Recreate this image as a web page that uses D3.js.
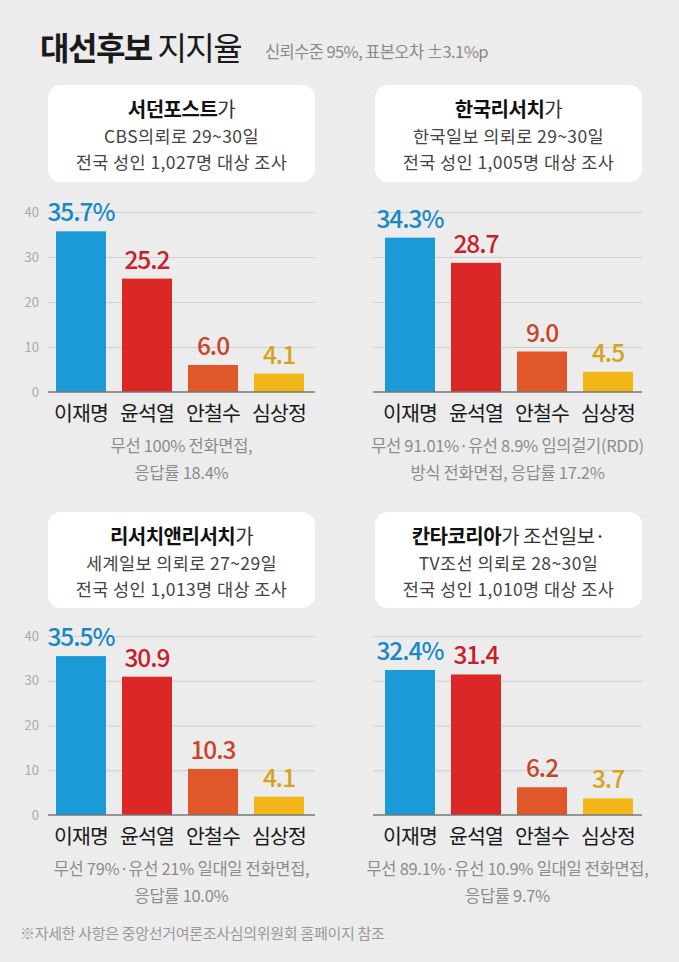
<!DOCTYPE html>
<html><head><meta charset="utf-8">
<script src="https://cdn.jsdelivr.net/npm/d3@7/dist/d3.min.js"></script>
<style>
html,body{margin:0;padding:0;background:#ececec;}
svg{display:block;}
text{font-family:"Noto Sans CJK KR","Noto Sans",sans-serif;}
</style></head>
<body>
<script>
// ---- data ----
const candidates = ["이재명", "윤석열", "안철수", "심상정"];
const valuesSouthernPost = [35.7, 25.2, 6.0, 4.1];
const valuesHankookResearch = [34.3, 28.7, 9.0, 4.5];
const valuesResearchAndResearch = [35.5, 30.9, 10.3, 4.1];
const valuesKantarKorea = [32.4, 31.4, 6.2, 3.7];
const yTicks = [0, 10, 20, 30, 40];
const titleBold = "대선후보";
const titleRegular = " 지지율";
const subtitle = "신뢰수준 95%, 표본오차 ±3.1%p";
const footer = "※자세한 사항은 중앙선거여론조사심의위원회 홈페이지 참조";
const headers = [
  [["서던포스트", "가"], "CBS의뢰로 29~30일", "전국 성인 1,027명 대상 조사"],
  [["한국리서치", "가"], "한국일보 의뢰로 29~30일", "전국 성인 1,005명 대상 조사"],
  [["리서치앤리서치", "가"], "세계일보 의뢰로 27~29일", "전국 성인 1,013명 대상 조사"],
  [["칸타코리아", "가 조선일보·"], "TV조선 의뢰로 28~30일", "전국 성인 1,010명 대상 조사"]
];
const notes = [
  ["무선 100% 전화면접,", "응답률 18.4%"],
  ["무선 91.01%·유선 8.9% 임의걸기(RDD)", "방식 전화면접, 응답률 17.2%"],
  ["무선 79%·유선 21% 일대일 전화면접,", "응답률 10.0%"],
  ["무선 89.1%·유선 10.9% 일대일 전화면접,", "응답률 9.7%"]
];
const seriesList = [valuesSouthernPost, valuesHankookResearch, valuesResearchAndResearch, valuesKantarKorea];

// ---- style ----
const barColors = ["#1b9ad8", "#dc2727", "#e0582a", "#f2b619"];
const labelColors = ["#1a88c4", "#c8202a", "#c9452a", "#d6a31c"];

// ---- layout ----
const W = 679, H = 962;
const layouts = [
  {box:[48,85,267,97], grid:[48,315], bar0:56, base:392, top:212, axis:true},
  {box:[375,85,267,97], grid:[373,642], bar0:385, base:392, top:212, axis:false},
  {box:[48,512,267,96], grid:[48,315], bar0:56, base:815, top:636, axis:true},
  {box:[375,512,267,96], grid:[373,642], bar0:385, base:815, top:636, axis:false}
];

const svg = d3.select("body").append("svg").attr("width", W).attr("height", H);
svg.append("rect").attr("width", W).attr("height", H).attr("fill", "#ececec");

// title
const t = svg.append("text").attr("x", 40).attr("y", 60).attr("fill", "#1a1a1a").attr("font-size", 32);
t.append("tspan").attr("font-weight", 700).attr("letter-spacing", -1.5).text(titleBold);
t.append("tspan").attr("font-weight", 400).attr("letter-spacing", -1.5).text(titleRegular);
svg.append("text").attr("x", 265).attr("y", 58).attr("fill", "#8a8a8a").attr("font-size", 16.5)
  .attr("letter-spacing", -0.6).text(subtitle);

// footer
svg.append("text").attr("x", 20).attr("y", 939).attr("fill", "#999").attr("font-size", 15)
  .attr("letter-spacing", -0.3).text(footer);

layouts.forEach((L, i) => {
  const g = svg.append("g");
  const values = seriesList[i];
  // header box
  const [bx, by, bw, bh] = L.box;
  g.append("rect").attr("x", bx).attr("y", by).attr("width", bw).attr("height", bh)
    .attr("rx", 13).attr("fill", "#fff");
  const cx = bx + bw / 2;
  const h = headers[i];
  const l1 = g.append("text").attr("x", cx).attr("y", by + 32).attr("text-anchor", "middle")
    .attr("font-size", 20).attr("fill", "#333").attr("letter-spacing", -0.5);
  l1.append("tspan").attr("font-weight", 700).attr("fill", "#111").text(h[0][0]);
  l1.append("tspan").attr("font-weight", 400).text(h[0][1]);
  g.append("text").attr("x", cx).attr("y", by + 58).attr("text-anchor", "middle")
    .attr("font-size", 17.5).attr("fill", "#444").attr("letter-spacing", 0.4).text(h[1]);
  g.append("text").attr("x", cx).attr("y", by + 84).attr("text-anchor", "middle")
    .attr("font-size", 17.5).attr("fill", "#444").attr("letter-spacing", 0.4).text(h[2]);

  // scales
  const y = d3.scaleLinear().domain([0, 40]).range([L.base, L.top]);
  const step = 66, pIn = 16 / 66, pOut = (L.bar0 - L.grid[0]) / step;
  const x = d3.scaleBand().domain(candidates)
    .range([L.grid[0], L.grid[0] + step * (candidates.length - pIn + 2 * pOut)])
    .paddingInner(pIn).paddingOuter(pOut);

  // gridlines via axis
  const gridAxis = d3.axisLeft(y).tickValues(yTicks.slice(1)).tickSize(-(L.grid[1] - L.grid[0])).tickFormat("");
  const gg = g.append("g").attr("transform", `translate(${L.grid[0]},0)`).call(gridAxis);
  gg.select(".domain").remove();
  gg.selectAll("line").attr("stroke", "#cfcfcf").attr("stroke-width", 1);

  if (L.axis) {
    const ya = d3.axisLeft(y).tickValues(yTicks).tickSize(0).tickPadding(0);
    const ag = g.append("g").attr("transform", `translate(${L.grid[0] - 9},0)`).call(ya);
    ag.select(".domain").remove();
    ag.selectAll("text").attr("font-family", "Roboto, sans-serif").attr("font-size", 13)
      .attr("fill", "#aaa");
  }

  // bars
  g.selectAll(".bar").data(values).join("rect")
    .attr("x", (d, j) => x(candidates[j])).attr("width", x.bandwidth())
    .attr("y", d => y(d)).attr("height", d => y(0) - y(d))
    .attr("fill", (d, j) => barColors[j]);

  // baseline
  g.append("line").attr("x1", L.grid[0]).attr("x2", L.grid[1]).attr("y1", y(0)).attr("y2", y(0))
    .attr("stroke", "#777").attr("stroke-width", 1.5);

  // value labels
  g.selectAll(".val").data(values).join("text")
    .attr("x", (d, j) => x(candidates[j]) + x.bandwidth() / 2)
    .attr("y", d => y(d) - 10)
    .attr("text-anchor", "middle")
    .attr("font-family", "Roboto, sans-serif").attr("font-weight", 500)
    .attr("font-size", 24.5).attr("letter-spacing", -1)
    .attr("fill", (d, j) => labelColors[j])
    .text((d, j) => d.toFixed(1) + (j === 0 ? "%" : ""));

  // category labels
  g.selectAll(".cat").data(candidates).join("text")
    .attr("x", d => x(d) + x.bandwidth() / 2)
    .attr("y", y(0) + 29)
    .attr("text-anchor", "middle").attr("font-size", 20.5).attr("fill", "#1a1a1a")
    .attr("letter-spacing", -0.8)
    .text(d => d);

  // notes
  const nc = (L.grid[0] + L.grid[1]) / 2;
  notes[i].forEach((s, k) => {
    g.append("text").attr("x", nc).attr("y", y(0) + 60 + k * 27)
      .attr("text-anchor", "middle").attr("font-size", 16.5).attr("fill", "#8c8c8c")
      .attr("letter-spacing", -0.3).text(s);
  });
});
</script>
</body></html>
